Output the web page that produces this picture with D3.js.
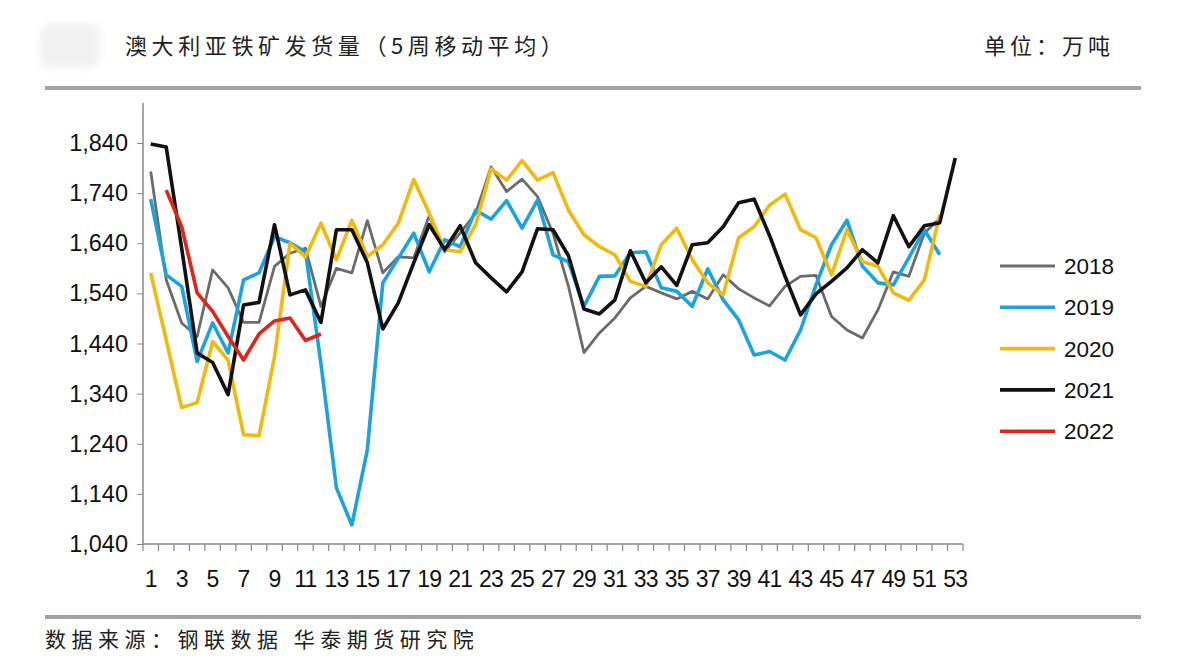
<!DOCTYPE html>
<html><head><meta charset="utf-8">
<script src="https://cdn.jsdelivr.net/npm/d3@7/dist/d3.min.js"></script>
<style>html,body{margin:0;padding:0;background:#fff;}svg{display:block;}</style>
</head><body>
<svg id="c" width="1182" height="668"></svg>
<script>
const weeks = d3.range(1, 54);
const yTicks = [1040, 1140, 1240, 1340, 1440, 1540, 1640, 1740, 1840];
const xTickLabels = d3.range(1, 54, 2);
const seriesNames = ["2018", "2019", "2020", "2021", "2022"];
const colors = ["#6b6b6b", "#1aa3df", "#f2b90c", "#111111", "#e2231a"];
const s2018 = [1783,1567,1481,1454,1587,1551,1482,1482,1594,1620,1630,1514,1590,1581,1685,1581,1613,1611,1695,1623,1660,1700,1792,1743,1768,1733,1660,1554,1422,1461,1491,1531,1554,1541,1529,1544,1529,1577,1549,1531,1515,1554,1574,1576,1494,1467,1451,1507,1583,1574,1660,1690];
const s2019 = [1728,1577,1554,1404,1481,1421,1567,1581,1653,1641,1623,1400,1152,1078,1228,1561,1610,1660,1583,1647,1633,1706,1688,1725,1670,1726,1617,1603,1514,1574,1575,1621,1623,1551,1544,1514,1589,1527,1487,1417,1424,1407,1467,1557,1637,1686,1594,1561,1557,1611,1667,1617];
const s2020 = [1581,1447,1312,1322,1444,1407,1258,1256,1414,1640,1613,1680,1607,1686,1613,1637,1680,1767,1700,1627,1623,1677,1788,1766,1805,1766,1781,1706,1657,1633,1617,1564,1554,1637,1670,1607,1561,1537,1651,1673,1716,1738,1667,1651,1577,1667,1603,1594,1541,1526,1567,1697];
const s2021 = [1838,1832,1630,1421,1402,1338,1517,1522,1677,1537,1547,1482,1667,1667,1601,1469,1521,1601,1677,1627,1675,1601,1571,1543,1583,1669,1667,1615,1509,1499,1527,1625,1561,1593,1556,1637,1641,1673,1721,1728,1655,1574,1497,1539,1564,1591,1627,1601,1695,1633,1675,1681,1810];
const s2022 = [null,1746,1673,1541,1504,1454,1407,1459,1485,1491,1446,1459];
const allSeries = [s2018, s2019, s2020, s2021, s2022];

const svg = d3.select("#c");
const numFont = "'Liberation Sans', Arial, sans-serif";
const cjkFont = "'Noto Sans CJK SC', sans-serif";

// blurred logo placeholder
const defs = svg.append("defs");
defs.append("filter").attr("id","blur").append("feGaussianBlur").attr("stdDeviation", 4);
svg.append("rect").attr("x",40).attr("y",24).attr("width",60).attr("height",44).attr("rx",10)
  .attr("fill","#f0f0f0").attr("filter","url(#blur)");

// title
svg.append("text").attr("x",125).attr("y",54).attr("font-family",cjkFont).attr("font-size",22)
  .attr("letter-spacing",4.6).attr("fill","#222").text("澳大利亚铁矿发货量（5周移动平均）");
svg.append("text").attr("x",1114).attr("y",54).attr("text-anchor","end").attr("font-family",cjkFont)
  .attr("font-size",22).attr("letter-spacing",4).attr("fill","#222").text("单位：万吨");

// rules
svg.append("rect").attr("x",45).attr("y",86).attr("width",1096).attr("height",4).attr("fill","#a3a3a3");
svg.append("rect").attr("x",45).attr("y",615).attr("width",1096).attr("height",4).attr("fill","#a3a3a3");

// footer
svg.append("text").attr("x",45).attr("y",647).attr("font-family",cjkFont).attr("font-size",21)
  .attr("letter-spacing",5.5).attr("fill","#222").text("数据来源：钢联数据 华泰期货研究院");

const x = d3.scaleBand().domain(weeks).range([143, 963]);
const y = d3.scaleLinear().domain([1040, 1840]).range([544, 143]);

// y axis
const yAxis = svg.append("g").attr("transform","translate(143,0)")
  .call(d3.axisLeft(y).tickValues(yTicks).tickFormat(d3.format(",")).tickSize(6).tickPadding(9));
yAxis.select(".domain").remove();
yAxis.selectAll(".tick line").attr("stroke","#8a8494");
yAxis.selectAll("text").attr("font-family",numFont).attr("font-size",23.5).attr("fill","#111");
svg.append("line").attr("x1",143).attr("x2",143).attr("y1",103).attr("y2",545)
  .attr("stroke","#8a8494").attr("stroke-width",1.5);

// x axis
const xg = svg.append("g").attr("transform","translate(0,544)");
xg.append("line").attr("x1",143).attr("x2",963).attr("stroke","#8a8494").attr("stroke-width",1.5);
xg.selectAll("line.tk").data(d3.range(0, 54)).join("line").attr("class","tk")
  .attr("x1", i => i < 53 ? x(weeks[i]) : x(53) + x.bandwidth())
  .attr("x2", i => i < 53 ? x(weeks[i]) : x(53) + x.bandwidth())
  .attr("y1",0).attr("y2",7).attr("stroke","#8a8494").attr("stroke-width",1.2);
xg.selectAll("text").data(xTickLabels).join("text")
  .attr("x", d => x(d) + x.bandwidth()/2).attr("y",43).attr("text-anchor","middle")
  .attr("font-family",numFont).attr("font-size",23).attr("letter-spacing",-0.8).attr("fill","#111").text(d => d);

// lines
const line = d3.line().defined(d => d.v != null).x(d => x(d.w) + x.bandwidth()/2).y(d => y(d.v));
allSeries.forEach((s, i) => {
  const pts = s.map((v, j) => ({w: weeks[j], v}));
  svg.append("path").datum(pts).attr("d", line).attr("fill","none")
    .attr("stroke", colors[i]).attr("stroke-width", i === 0 ? 2.8 : 3.6)
    .attr("stroke-linejoin","round");
});

// legend
const lg = svg.append("g");
seriesNames.forEach((n, i) => {
  const yy = 266 + i * 41.3;
  lg.append("line").attr("x1",1000).attr("x2",1055).attr("y1",yy).attr("y2",yy)
    .attr("stroke",colors[i]).attr("stroke-width", i === 0 ? 2.8 : 3.6);
  lg.append("text").attr("x",1064).attr("y",yy+8).attr("font-family",numFont).attr("font-size",22.5)
    .attr("fill","#111").text(n);
});
</script>
</body></html>
